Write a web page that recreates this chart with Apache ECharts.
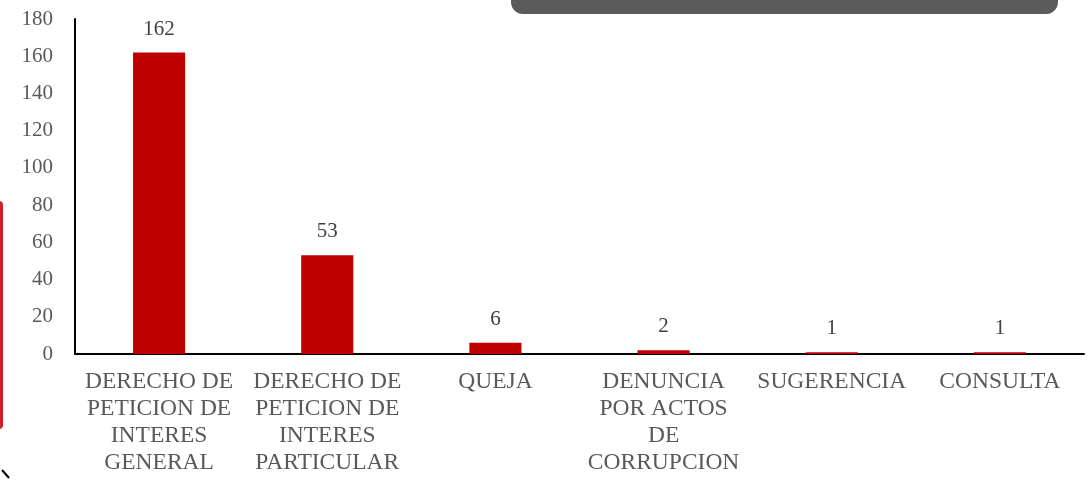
<!DOCTYPE html>
<html>
<head>
<meta charset="utf-8">
<script src="https://cdn.jsdelivr.net/npm/echarts@6/dist/echarts.min.js"></script>
<style>
html,body{margin:0;padding:0;background:#fff;}
#chart{width:1089px;height:483px;}
</style>
</head>
<body>
<div id="chart"></div>
<script>
const categories = [
  "DERECHO DE\nPETICION DE\nINTERES\nGENERAL",
  "DERECHO DE\nPETICION DE\nINTERES\nPARTICULAR",
  "QUEJA",
  "DENUNCIA\nPOR ACTOS\nDE\nCORRUPCION",
  "SUGERENCIA",
  "CONSULTA"
];
const values = [162, 53, 6, 2, 1, 1];
const yMin = 0, yMax = 180, yStep = 20;

const font = '"Liberation Serif", "DejaVu Serif", serif';
const chart = echarts.init(document.getElementById('chart'), null, {renderer: 'canvas'});
chart.setOption({
  animation: false,
  backgroundColor: '#ffffff',
  grid: {left: 75, right: 5, top: 19, bottom: 129, containLabel: false},
  xAxis: {
    type: 'category',
    data: categories,
    axisLine: {lineStyle: {color: '#000', width: 2}},
    axisTick: {show: false},
    axisLabel: {interval: 0, margin: 14, color: '#595959', fontFamily: font, fontSize: 23.5, lineHeight: 27}
  },
  yAxis: {
    type: 'value', min: yMin, max: yMax, interval: yStep,
    axisLine: {show: true, lineStyle: {color: '#000', width: 2}},
    axisTick: {show: false},
    splitLine: {show: false},
    axisLabel: {margin: 22, color: '#595959', fontFamily: font, fontSize: 21}
  },
  series: [{
    type: 'bar',
    data: values,
    barWidth: '31%',
    itemStyle: {color: '#C00000'},
    label: {show: true, position: 'top', distance: 13, color: '#404040', fontFamily: font, fontSize: 21}
  }],
  graphic: [
    {type: 'rect', shape: {x: 511, y: -20, width: 547, height: 34, r: 12}, style: {fill: '#5B5B5B'}},
    {type: 'rect', shape: {x: -10, y: 201, width: 13, height: 228, r: 4}, style: {fill: '#D0202A'}},
    {type: 'line', shape: {x1: 2, y1: 470, x2: 9, y2: 478}, style: {stroke: '#000', lineWidth: 2}}
  ]
});
</script>
</body>
</html>
